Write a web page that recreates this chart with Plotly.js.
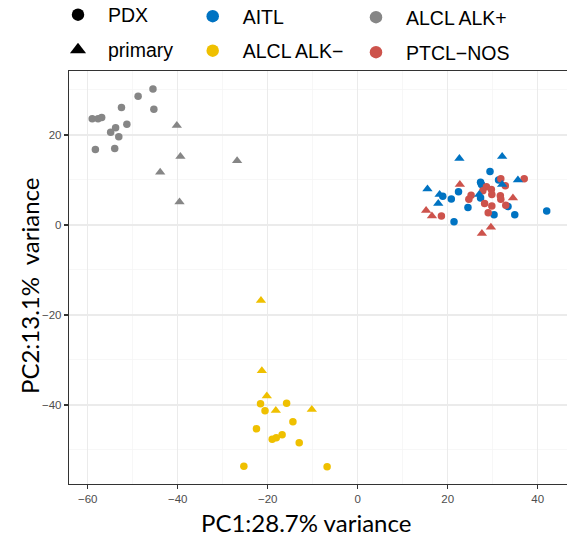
<!DOCTYPE html>
<html><head><meta charset="utf-8">
<script src="https://cdn.plot.ly/plotly-3.0.1.min.js"></script>
<style>html,body{margin:0;padding:0;background:#fff}#chart{width:567px;height:539px}</style>
</head><body><div id="chart"></div>
<script>
// ---- data (PC1, PC2) ----
const groups = ["AITL", "ALCL ALK\u2212", "ALCL ALK+", "PTCL\u2212NOS"];
const sources = ["PDX", "primary"];
const groupColors = ["#0073C2", "#EFC000", "#868686", "#CD534C"];

const alkPosPdxX = [-45.5, -48.8, -52.5, -45.3, -59.0, -57.7, -56.9, -51.3, -53.8, -54.9, -53.1, -58.3, -54.0];
const alkPosPdxY = [30.2, 28.6, 26.1, 25.7, 23.6, 23.6, 23.9, 22.4, 21.6, 20.6, 19.6, 16.8, 17.0];
const alkPosPrimX = [-40.2, -39.4, -26.8, -43.9, -39.6];
const alkPosPrimY = [22.1, 15.2, 14.3, 11.7, 5.1];

const alkNegPdxX = [-21.6, -20.6, -15.8, -14.4, -22.5, -19.0, -18.1, -16.8, -13.0, -25.3, -6.8];
const alkNegPdxY = [-39.7, -41.3, -39.6, -43.7, -45.3, -47.6, -47.3, -46.6, -48.4, -53.6, -53.7];
const alkNegPrimX = [-21.5, -21.3, -20.2, -18.2, -10.2];
const alkNegPrimY = [-16.8, -32.4, -38.0, -41.2, -41.0];

const aitlPdxX = [29.4, 27.3, 27.5, 31.3, 18.9, 22.4, 20.8, 27.3, 24.5, 33.4, 30.3, 34.9, 21.4, 42.0];
const aitlPdxY = [11.9, 9.5, 9.0, 10.0, 6.4, 7.4, 5.8, 6.0, 3.9, 4.1, 2.3, 2.3, 0.7, 3.1];
const aitlPrimX = [22.6, 32.1, 15.5, 18.2, 17.9, 35.6, 27.0, 32.1];
const aitlPrimY = [14.8, 15.2, 8.0, 6.8, 4.8, 10.0, 6.8, 9.0];

const ptclPdxX = [37.0, 31.8, 32.8, 28.6, 29.7, 27.8, 29.8, 31.7, 31.8, 25.2, 24.7, 28.2, 29.8, 32.9, 29.0, 18.6];
const ptclPdxY = [10.3, 10.3, 8.7, 8.5, 7.9, 7.6, 6.8, 6.5, 5.7, 6.6, 5.7, 4.8, 4.2, 4.4, 2.7, 2.0];
const ptclPrimX = [22.7, 34.5, 15.2, 16.5, 27.6, 29.6];
const ptclPrimY = [9.0, 6.0, 3.2, 2.0, -1.9, -0.5];

const xTicks = [-60, -40, -20, 0, 20, 40];
const yTicks = [-40, -20, 0, 20];
const xTitle = "PC1:28.7% variance";
const yTitle = "PC2:13.1%\u00a0 variance";

// ---- build ----
const PT = 7.5, TRI = 9;
function pts(x, y, color, symbol, size) {
  return {type: "scatter", mode: "markers", x: x, y: y, showlegend: false, hoverinfo: "x+y",
          marker: {color: color, symbol: symbol, size: size, line: {width: 0}}};
}
const traces = [
  pts(alkPosPdxX, alkPosPdxY, groupColors[2], "circle", PT),
  pts(alkPosPrimX, alkPosPrimY, groupColors[2], "triangle-up", TRI),
  pts(alkNegPdxX, alkNegPdxY, groupColors[1], "circle", PT),
  pts(alkNegPrimX, alkNegPrimY, groupColors[1], "triangle-up", TRI),
  pts(aitlPdxX, aitlPdxY, groupColors[0], "circle", PT),
  pts(ptclPdxX, ptclPdxY, groupColors[3], "circle", PT),
  pts(aitlPrimX, aitlPrimY, groupColors[0], "triangle-up", TRI),
  pts(ptclPrimX, ptclPrimY, groupColors[3], "triangle-up", TRI)
];

// legend entries (six single-item legends)
const LFONT = {family: "Liberation Sans, Arial, sans-serif", size: 19.5, color: "#000"};
const legendItems = [
  {name: sources[0], color: "#000", symbol: "circle", px: 78, py: 15},
  {name: sources[1], color: "#000", symbol: "triangle-up", px: 78, py: 50},
  {name: groups[0], color: groupColors[0], symbol: "circle", px: 212.7, py: 16.5},
  {name: groups[1], color: groupColors[1], symbol: "circle", px: 212.7, py: 51},
  {name: groups[2], color: groupColors[2], symbol: "circle", px: 376, py: 17.5},
  {name: groups[3], color: groupColors[3], symbol: "circle", px: 376, py: 52.5}
];
const L = 69, T = 71, R = 567, B = 484;
const W = R - L, H = B - T;
const layout = {
  width: 567, height: 539,
  margin: {l: L, r: 567 - R, t: T, b: 539 - B, pad: 0, autoexpand: false},
  paper_bgcolor: "#fff", plot_bgcolor: "#fff",
  font: {family: "Liberation Sans, Arial, sans-serif", color: "#4D4D4D", size: 11.5},
  xaxis: {
    range: [-64.16, 46.51], tickvals: xTicks, ticks: "outside", ticklen: 4, tickwidth: 1.1, tickcolor: "#333",
    showgrid: true, gridcolor: "#EBEBEB", gridwidth: 1.2, zeroline: false, automargin: false,
    minor: {dtick: 10, tick0: 0, showgrid: true, gridcolor: "#F3F3F3", gridwidth: 0.7, ticks: ""},
    showline: true, linecolor: "#333", linewidth: 1.2, mirror: true,
    tickfont: {size: 11.5, color: "#4D4D4D"}
  },
  yaxis: {
    range: [-57.56, 34.22], tickvals: yTicks, ticks: "outside", ticklen: 4, tickwidth: 1.1, tickcolor: "#333",
    showgrid: true, gridcolor: "#EBEBEB", gridwidth: 1.2, zeroline: false, automargin: false,
    minor: {dtick: 10, tick0: 0, showgrid: true, gridcolor: "#F3F3F3", gridwidth: 0.7, ticks: ""},
    showline: true, linecolor: "#333", linewidth: 1.2, mirror: false,
    tickfont: {size: 11.5, color: "#4D4D4D"}
  },
  annotations: [
    {text: xTitle, xref: "paper", yref: "paper", x: (305.5 - L) / W, y: (B - 522) / H,
     xanchor: "center", yanchor: "middle", showarrow: false,
     font: {family: "Lato, sans-serif", size: 24, color: "#000"}},
    {text: yTitle, xref: "paper", yref: "paper", x: (29 - L) / W, y: (B - 286) / H, textangle: -90,
     xanchor: "center", yanchor: "middle", showarrow: false,
     font: {family: "Lato, sans-serif", size: 24, color: "#000"}}
  ],
  hovermode: false
};
legendItems.forEach(function (it, i) {
  const key = i === 0 ? "legend" : "legend" + (i + 1);
  traces.push({type: "scatter", mode: "markers", x: [null], y: [null], name: it.name, legend: key,
               showlegend: true, marker: {color: it.color, symbol: it.symbol, size: it.symbol === "circle" ? 12.5 : 14}});
  layout[key] = {x: (it.px - 30 - L) / W, y: (B - it.py) / H, xanchor: "left", yanchor: "middle",
                 bgcolor: "rgba(0,0,0,0)", borderwidth: 0, itemwidth: 50, font: LFONT};
});
Plotly.newPlot("chart", traces, layout, {displayModeBar: false, staticPlot: true});
</script></body></html>
